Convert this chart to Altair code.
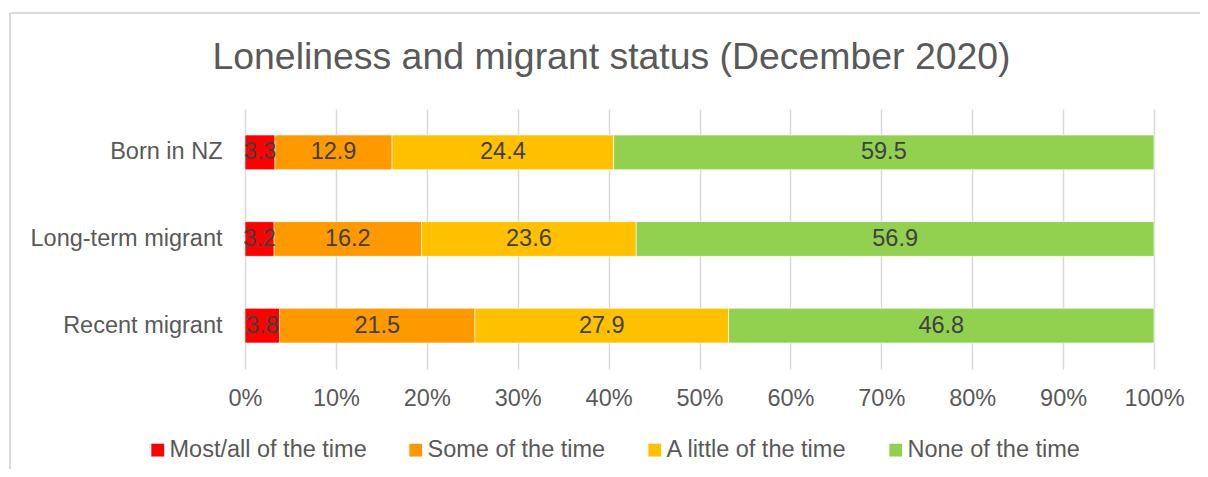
import altair as alt
import pandas as pd

groups = ["Born in NZ", "Long-term migrant", "Recent migrant"]
levels = ["Most/all of the time", "Some of the time", "A little of the time", "None of the time"]
most_all = [3.3, 3.2, 3.8]
some = [12.9, 16.2, 21.5]
little = [24.4, 23.6, 27.9]
none_ = [59.5, 56.9, 46.8]
colors = ["#FF0000", "#FF9900", "#FFC000", "#92D050"]

rows = []
for i, g in enumerate(groups):
    for j, (lvl, vals) in enumerate(zip(levels, [most_all, some, little, none_])):
        rows.append({"group": g, "level": lvl, "order": j, "value": vals[i]})
df = pd.DataFrame(rows)

FONT = "Liberation Sans"
FS = 23.5

base = alt.Chart(df).transform_stack(
    stack="value", groupby=["group"], as_=["v0", "v1"], offset="normalize",
    sort=[alt.SortField("order", order="ascending")]
).transform_calculate(mid="(datum.v0 + datum.v1) / 2")

yenc = alt.Y("group:N", sort=groups, title=None,
             scale=alt.Scale(paddingInner=0.6, paddingOuter=0.3),
             axis=alt.Axis(domain=False, ticks=False, grid=False, labelFontSize=FS,
                           labelColor="#595959", labelFont=FONT, labelPadding=23,
                           labelLimit=400))

bars = base.mark_bar(stroke="white", strokeWidth=0.6).encode(
    x=alt.X("v0:Q", title=None, scale=alt.Scale(domain=[0, 1], nice=False),
            axis=alt.Axis(format="%", values=[i / 10 for i in range(11)], domain=False, ticks=False,
                          grid=True, gridColor="#D9D9D9", gridWidth=1.5, labelFlush=False,
                          labelFontSize=FS, labelColor="#595959", labelFont=FONT, labelPadding=17)),
    x2="v1:Q",
    y=yenc,
    color=alt.Color("level:N", sort=levels,
                    scale=alt.Scale(domain=levels, range=colors),
                    legend=alt.Legend(title=None, orient="none", direction="horizontal",
                                      legendX=-99, legendY=329, symbolType="square",
                                      symbolSize=165, symbolStrokeWidth=0,
                                      labelFontSize=FS, labelColor="#595959", labelFont=FONT,
                                      labelOffset=0, columnPadding=37, labelLimit=400)),
    order=alt.Order("order:Q"),
)

labels = base.mark_text(fontSize=FS, font=FONT, color="#404040").encode(
    x=alt.X("mid:Q"),
    y=alt.Y("group:N", sort=groups),
    text=alt.Text("value:Q", format=".1f"),
)

frame_left = alt.Chart(df).mark_rule(color="#D9D9D9", strokeWidth=2).encode(
    x=alt.value(-235), y=alt.value(-96), y2=alt.value(400))
frame_top = alt.Chart(df).mark_rule(color="#D9D9D9", strokeWidth=2).encode(
    x=alt.value(-235), x2=alt.value(1000), y=alt.value(-96))

chart = alt.layer(frame_left, frame_top, bars, labels).properties(
    width=909, height=260,
    background="white",
    title=alt.TitleParams("Loneliness and migrant status (December 2020)", fontSize=37.4,
                          font=FONT, color="#595959", fontWeight="normal",
                          anchor="middle", dx=-88, offset=-102, baseline="bottom"),
    autosize=alt.AutoSizeParams(type="none"),
    padding={"left": 237, "top": 101, "right": 46, "bottom": 100},
).configure_view(stroke=None)

chart.save("out.html", embed_options={"renderer": "svg", "actions": False})
